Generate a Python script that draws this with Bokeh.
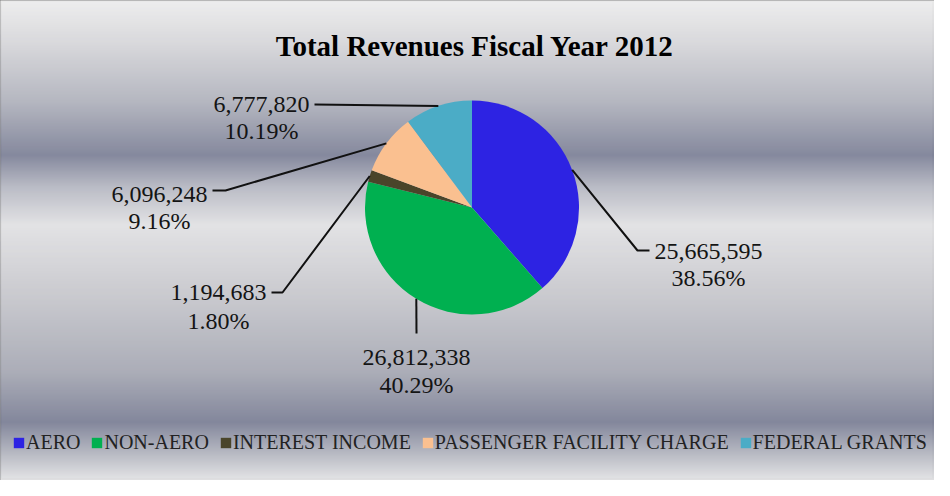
import numpy as np
from bokeh.plotting import figure
from bokeh.models import Range1d, ColumnDataSource
from bokeh.core.properties import value
from bokeh.embed import file_html
from bokeh.resources import INLINE

# ---------------- data ----------------
title_text = "Total Revenues Fiscal Year 2012"
categories = ["AERO", "NON-AERO", "INTEREST INCOME", "PASSENGER FACILITY CHARGE", "FEDERAL GRANTS"]
revenues = [25665595, 26812338, 1194683, 6096248, 6777820]
percent_labels = ["38.56%", "40.29%", "1.80%", "9.16%", "10.19%"]

# ---------------- style ----------------
colors = ["#2D23E3", "#00B050", "#4A452A", "#FAC090", "#4BACC6"]
SERIF = "Liberation Serif"
W, H = 934, 480
PAGE_H = 496            # data y = PAGE_H - page y, data x = page x


def Y(py):
    return PAGE_H - py


# pie geometry (page px)
CX, CY, R = 479.5, 215.0, 107.0

# label layout (page px): elbow x,y ; end x,y ; text centre x ; baseline line1 ; baseline line2
label_layout = [
    (645, 258, 657, 258, 716, 259, 285),
    (424, 341, 424, 341, 424, 365, 392),
    (290, 300, 279, 300, 226, 300, 328),
    (233, 198, 220, 198, 167, 202, 228),
    (322, 112, 322, 112, 269, 112, 138),
]

# background gradient stops (page y, colour)
grad_y = [8, 50, 110, 163, 195, 233, 300, 380, 430, 465, 488]
grad_c = ["#f0f0f0", "#dadadd", "#b3b5bf", "#80849a", "#b9bbc5", "#e4e4e6",
          "#cbcbd0", "#a9abb6", "#7e8298", "#bdbfc7", "#e6e6e8"]

p = figure(width=W, height=H, output_backend="svg", toolbar_location=None,
           x_range=Range1d(8, 8 + W), y_range=Range1d(PAGE_H - 8 - H, PAGE_H - 8),
           x_axis_type=None, y_axis_type=None, min_border=0)
p.grid.visible = False
p.outline_line_color = "#8c8c8c"
p.outline_line_width = 3
p.background_fill_color = "#d0d0d4"
p.border_fill_color = "white"


def hex2rgb(h):
    return [int(h[i:i + 2], 16) for i in (1, 3, 5)]


rgb = np.array([hex2rgb(c) for c in grad_c], dtype=float)
rows = np.arange(8, 488)
band_cols = []
for py in rows:
    r_, g_, b_ = (np.interp(py + 0.5, grad_y, rgb[:, k]) for k in range(3))
    band_cols.append("#%02x%02x%02x" % (int(r_), int(g_), int(b_)))
p.quad(left=8, right=8 + W, top=[Y(py) for py in rows], bottom=[Y(py + 1) for py in rows],
       fill_color=band_cols, line_color=band_cols, line_width=0.5)

# ---------------- pie ----------------
vals = np.array(revenues, dtype=float)
frac = vals / vals.sum()
cum_end = np.cumsum(frac)
cum_start = cum_end - frac
start_ang = np.pi / 2 - 2 * np.pi * cum_start
end_ang = np.pi / 2 - 2 * np.pi * cum_end

src = ColumnDataSource(dict(category=categories, start=start_ang, end=end_ang, color=colors))
p.wedge(x=CX, y=Y(CY), radius=R, start_angle="start", end_angle="end", direction="clock",
        fill_color="color", line_color=None, source=src, legend_field="category")

# ---------------- leader lines & labels ----------------
mid = np.pi / 2 - 2 * np.pi * (cum_start + frac / 2)
xs, ys = [], []
tx, ty1, ty2, t1, t2 = [], [], [], [], []
for i, (ex, ey, nx, ny, cxt, b1, b2) in enumerate(label_layout):
    px0 = CX + R * np.cos(mid[i])
    py0 = CY - R * np.sin(mid[i])
    xs.append([px0, ex, nx])
    ys.append([Y(py0), Y(ey), Y(ny)])
    tx.append(cxt)
    ty1.append(Y(b1))
    ty2.append(Y(b2))
    t1.append(f"{revenues[i]:,}")
    t2.append(percent_labels[i])

p.multi_line(xs=xs, ys=ys, line_color="#111111", line_width=2)
p.text(x=tx, y=ty1, text=t1, text_align="center", text_baseline="alphabetic",
       text_font=value(SERIF), text_font_size="24px", text_color="#141414")
p.text(x=tx, y=ty2, text=t2, text_align="center", text_baseline="alphabetic",
       text_font=value(SERIF), text_font_size="24px", text_color="#141414")

# ---------------- title ----------------
p.text(x=[482.5], y=[Y(53)], text=[title_text], text_align="center", text_baseline="alphabetic",
       text_font=value(SERIF), text_font_size="29px", text_font_style="bold", text_color="#000000")

# ---------------- legend ----------------
lg = p.legend[0]
lg.orientation = "horizontal"
lg.location = (12, 26.5)
lg.glyph_width = 13
lg.glyph_height = 13
lg.label_standoff = 1
lg.spacing = 10
lg.padding = 0
lg.margin = 0
lg.label_height = 20
lg.label_text_font = SERIF
lg.label_text_font_size = "20px"
lg.label_text_color = "#222222"
lg.border_line_alpha = 0
lg.background_fill_alpha = 0

open("out.html", "w").write(file_html(p, INLINE))
